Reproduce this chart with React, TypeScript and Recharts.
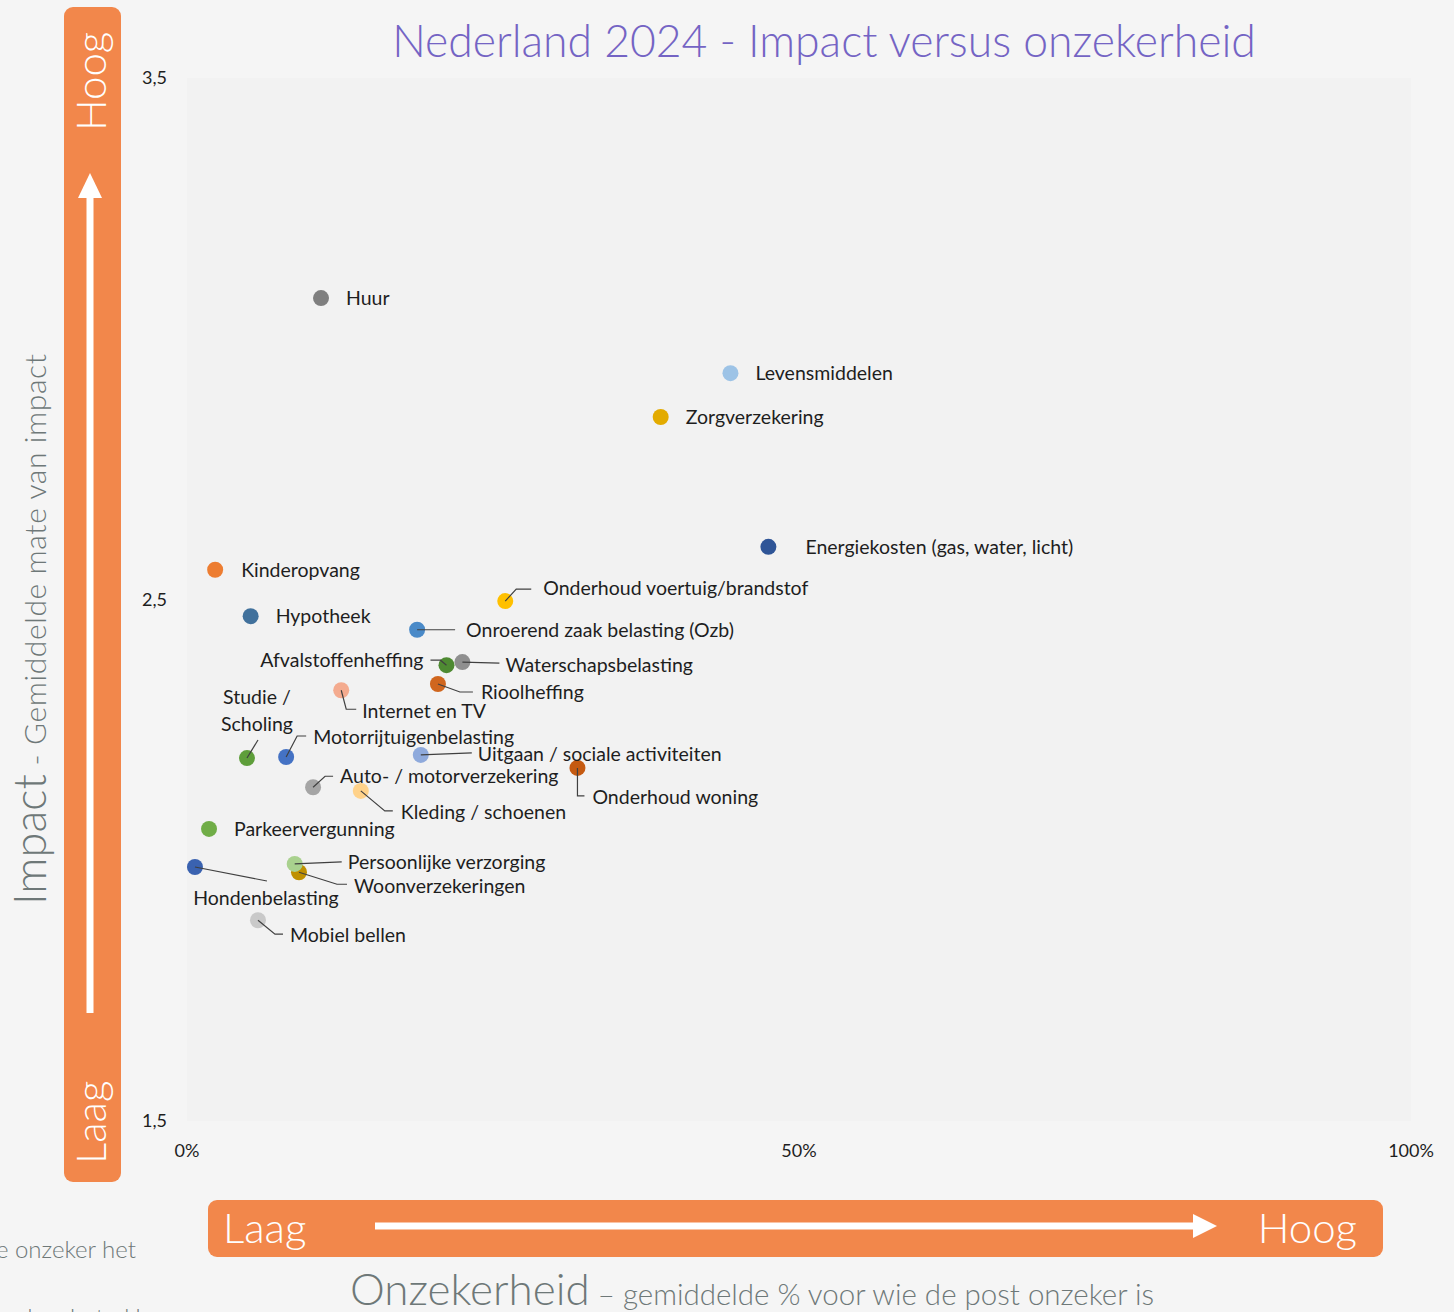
import React from "react";
import { ScatterChart, Scatter, XAxis, YAxis, CartesianGrid } from "recharts";

// ---- Data ----
const names = [
  "Huur",
  "Levensmiddelen",
  "Zorgverzekering",
  "Energiekosten (gas, water, licht)",
  "Kinderopvang",
  "Onderhoud voertuig/brandstof",
  "Hypotheek",
  "Onroerend zaak belasting (Ozb)",
  "Waterschapsbelasting",
  "Afvalstoffenheffing",
  "Rioolheffing",
  "Internet en TV",
  "Studie / Scholing",
  "Motorrijtuigenbelasting",
  "Uitgaan / sociale activiteiten",
  "Onderhoud woning",
  "Auto- / motorverzekering",
  "Kleding / schoenen",
  "Parkeervergunning",
  "Hondenbelasting",
  "Woonverzekeringen",
  "Persoonlijke verzorging",
  "Mobiel bellen",
];

// Onzekerheid (%)
const uncertainty = [
  10.95, 44.4, 38.7, 47.5, 2.3, 26.0, 5.2, 18.8, 22.5, 21.2, 20.5, 12.6, 4.9,
  8.1, 19.1, 31.9, 10.3, 14.2, 1.8, 0.65, 9.15, 8.8, 5.8,
];

// Impact (gemiddelde)
const impact = [
  3.078, 2.934, 2.85, 2.601, 2.557, 2.497, 2.468, 2.442, 2.38, 2.374, 2.338,
  2.326, 2.196, 2.198, 2.202, 2.177, 2.14, 2.133, 2.06, 1.987, 1.977, 1.993,
  1.885,
];

const labelTexts = [
  "Huur",
  "Levensmiddelen",
  "Zorgverzekering",
  "Energiekosten (gas, water, licht)",
  "Kinderopvang",
  "Onderhoud voertuig/brandstof",
  "Hypotheek",
  "Onroerend zaak belasting (Ozb)",
  "Waterschapsbelasting",
  "Afvalstoffenheffing",
  "Rioolheffing",
  "Internet en TV",
  "Studie /\nScholing",
  "Motorrijtuigenbelasting",
  "Uitgaan / sociale activiteiten",
  "Onderhoud woning",
  "Auto- / motorverzekering",
  "Kleding / schoenen",
  "Parkeervergunning",
  "Hondenbelasting",
  "Woonverzekeringen",
  "Persoonlijke verzorging",
  "Mobiel bellen",
];

const yTicks = [1.5, 2.5, 3.5];
const xTicks = [0, 50, 100];

const title = "Nederland 2024 - Impact versus onzekerheid";
const yTitleMain = "Impact";
const yTitleSub = " - Gemiddelde mate van impact";
const xTitleMain = "Onzekerheid";
const xTitleSub = " – gemiddelde % voor wie de post onzeker is";
const lowText = "Laag";
const highText = "Hoog";

// ---- Styles ----
const colors = [
  "#7f7f7f",
  "#9dc3e6",
  "#e3ab00",
  "#2f5597",
  "#ed7d31",
  "#ffc000",
  "#41719c",
  "#4a8ac8",
  "#8f8f8f",
  "#4e8a32",
  "#d0661e",
  "#f4ab8f",
  "#5e9e3a",
  "#4472c4",
  "#8faadc",
  "#c55a11",
  "#a5a5a5",
  "#ffd28a",
  "#70ad47",
  "#3a62b0",
  "#bf9000",
  "#a9d18e",
  "#c9c9c9",
];

type Layout = {
  dx: number;
  dy: number;
  anchor?: "start" | "middle" | "end";
  leader?: number[][];
};

const labelLayout: Record<string, Layout> = {
  Huur: { dx: 25, dy: 0 },
  Levensmiddelen: { dx: 25, dy: 0 },
  Zorgverzekering: { dx: 25, dy: 0 },
  "Energiekosten (gas, water, licht)": { dx: 37, dy: 0 },
  Kinderopvang: { dx: 26, dy: 0 },
  "Onderhoud voertuig/brandstof": { dx: 38, dy: -13, leader: [[0, 0], [11, -12], [26, -12]] },
  Hypotheek: { dx: 25, dy: 0 },
  "Onroerend zaak belasting (Ozb)": { dx: 49, dy: 0, leader: [[0, 0], [38, 0]] },
  Waterschapsbelasting: { dx: 43, dy: 3, leader: [[0, 0], [37, 1]] },
  Afvalstoffenheffing: { dx: -23, dy: -5, anchor: "end", leader: [[0, 0], [-6, -5], [-16, -5]] },
  Rioolheffing: { dx: 43, dy: 8, leader: [[0, 0], [22, 8], [35, 8]] },
  "Internet en TV": { dx: 21, dy: 21, leader: [[0, 0], [5, 19], [15, 19]] },
  "Studie / Scholing": { dx: 10, dy: -61, anchor: "middle", leader: [[0, 0], [11, -18]] },
  Motorrijtuigenbelasting: { dx: 27, dy: -20, leader: [[0, 0], [11, -21], [20, -21]] },
  "Uitgaan / sociale activiteiten": { dx: 57, dy: -1, leader: [[0, 0], [51, -2]] },
  "Onderhoud woning": { dx: 15, dy: 29, leader: [[0, 0], [0, 28], [7, 28]] },
  "Auto- / motorverzekering": { dx: 27, dy: -11, leader: [[0, 0], [12, -11], [20, -11]] },
  "Kleding / schoenen": { dx: 40, dy: 21, leader: [[0, 0], [24, 20], [32, 20]] },
  Parkeervergunning: { dx: 25, dy: 0 },
  Hondenbelasting: { dx: 71, dy: 31, anchor: "middle", leader: [[0, 0], [72, 14]] },
  Woonverzekeringen: { dx: 55, dy: 14, leader: [[0, 0], [38, 12], [48, 12]] },
  "Persoonlijke verzorging": { dx: 53, dy: -2, leader: [[0, 0], [47, -2]] },
  "Mobiel bellen": { dx: 32, dy: 15, leader: [[0, 0], [17, 14], [25, 14]] },
};

const FONT = "Lato, 'Open Sans', sans-serif";
const ORANGE = "#f2874b";
const GREY_TEXT = "#6e7878";

const data = names.map((n, i) => ({
  name: n,
  x: uncertainty[i],
  y: impact[i],
  color: colors[i],
  label: labelTexts[i],
}));

const DotShape = (props: any) => {
  const { cx, cy, payload } = props;
  if (cx == null || cy == null) return null;
  return <circle cx={cx} cy={cy} r={8} fill={payload.color} />;
};

const LabelShape = (props: any) => {
  const { cx, cy, payload } = props;
  if (cx == null || cy == null) return null;
  const lay = labelLayout[payload.name] || { dx: 25, dy: 0 };
  const lines = String(payload.label).split("\n");
  const tx = cx + lay.dx;
  const ty = cy + lay.dy;
  return (
    <g>
      {lay.leader && (
        <polyline
          points={lay.leader.map((p) => `${cx + p[0]},${cy + p[1]}`).join(" ")}
          fill="none"
          stroke="#404040"
          strokeWidth={1.2}
        />
      )}
      <text
        x={tx}
        y={ty}
        textAnchor={lay.anchor || "start"}
        fontFamily={FONT}
        fontSize={19.5}
        fill="#1e1e1e"
      >
        {lines.map((l, i) => (
          <tspan key={i} x={tx} dy={i === 0 ? "0.35em" : 27}>
            {l}
          </tspan>
        ))}
      </text>
    </g>
  );
};

const Decorations = () => (
  <svg
    width={1454}
    height={1312}
    style={{ position: "absolute", left: 0, top: 0 }}
  >
    {/* Vertical orange bar */}
    <rect x={64} y={7} width={57} height={1175} rx={9} fill={ORANGE} />
    <text transform="translate(106,131) rotate(-90)" fontFamily={FONT} fontWeight={300} fontSize={42} fill="#fff">
      {highText}
    </text>
    <text transform="translate(106,1164) rotate(-90)" fontFamily={FONT} fontWeight={300} fontSize={42} fill="#fff">
      {lowText}
    </text>
    <rect x={86.5} y={195} width={7} height={818} fill="#fff" />
    <polygon points="90,173 78,198 102,198" fill="#fff" />

    {/* Horizontal orange bar */}
    <rect x={208} y={1200} width={1175} height={57} rx={9} fill={ORANGE} />
    <text x={223} y={1243} fontFamily={FONT} fontWeight={300} fontSize={42} fill="#fff">
      {lowText}
    </text>
    <text x={1357} y={1243} textAnchor="end" fontFamily={FONT} fontWeight={300} fontSize={42} fill="#fff">
      {highText}
    </text>
    <rect x={375} y={1222.5} width={820} height={7} fill="#fff" />
    <polygon points="1217,1226 1193,1214 1193,1238" fill="#fff" />

    {/* Title */}
    <text x={824} y={57} textAnchor="middle" fontFamily={FONT} fontWeight={300} fontSize={44.5} fill="#7464c4">
      {title}
    </text>

    {/* Y axis title */}
    <text transform="translate(46,905) rotate(-90)" fontFamily={FONT} fontWeight={300} fill={GREY_TEXT}>
      <tspan fontSize={45}>{yTitleMain}</tspan>
      <tspan fontSize={30} letterSpacing={0.6}>{yTitleSub}</tspan>
    </text>

    {/* X axis title */}
    <text x={350} y={1305} fontFamily={FONT} fontWeight={300} fill={GREY_TEXT}>
      <tspan fontSize={44}>{xTitleMain}</tspan>
      <tspan fontSize={29.5}>{xTitleSub}</tspan>
    </text>

    {/* Clipped side texts */}
    <text x={136} y={1258} textAnchor="end" fontFamily={FONT} fontWeight={300} fontSize={24} fill={GREY_TEXT}>
      e onzeker het
    </text>
    <text x={172} y={1326} textAnchor="end" fontFamily={FONT} fontWeight={300} fontSize={24} fill={GREY_TEXT}>
      anders betrekken
    </text>
  </svg>
);

export default function App() {
  return (
    <div
      style={{
        position: "absolute",
        left: 0,
        top: 0,
        width: 1454,
        height: 1312,
        background: "#f5f5f5",
        overflow: "hidden",
      }}
    >
      <Decorations />
      <div style={{ position: "absolute", left: 0, top: 0 }}>
        <ScatterChart
          width={1454}
          height={1312}
          margin={{ top: 78, right: 43, bottom: 141, left: 127 }}
        >
          <CartesianGrid fill="#f2f2f2" horizontal={false} vertical={false} stroke="none" />
          <XAxis
            type="number"
            dataKey="x"
            domain={[0, 100]}
            ticks={xTicks}
            height={50}
            axisLine={false}
            tickLine={false}
            tickSize={0}
            tickMargin={23}
            tickFormatter={(v: number) => `${v}%`}
            tick={{ fontFamily: FONT, fontSize: 18, fill: "#1e1e1e" }}
          />
          <YAxis
            type="number"
            dataKey="y"
            domain={[1.5, 3.5]}
            ticks={yTicks}
            width={60}
            axisLine={false}
            tickLine={false}
            tickSize={0}
            tickMargin={20}
            tickFormatter={(v: number) => String(v).replace(".", ",")}
            tick={{ fontFamily: FONT, fontSize: 18, fill: "#1e1e1e" }}
          />
          <Scatter data={data} shape={DotShape} isAnimationActive={false} />
          <Scatter data={data} shape={LabelShape} isAnimationActive={false} />
        </ScatterChart>
      </div>
    </div>
  );
}
